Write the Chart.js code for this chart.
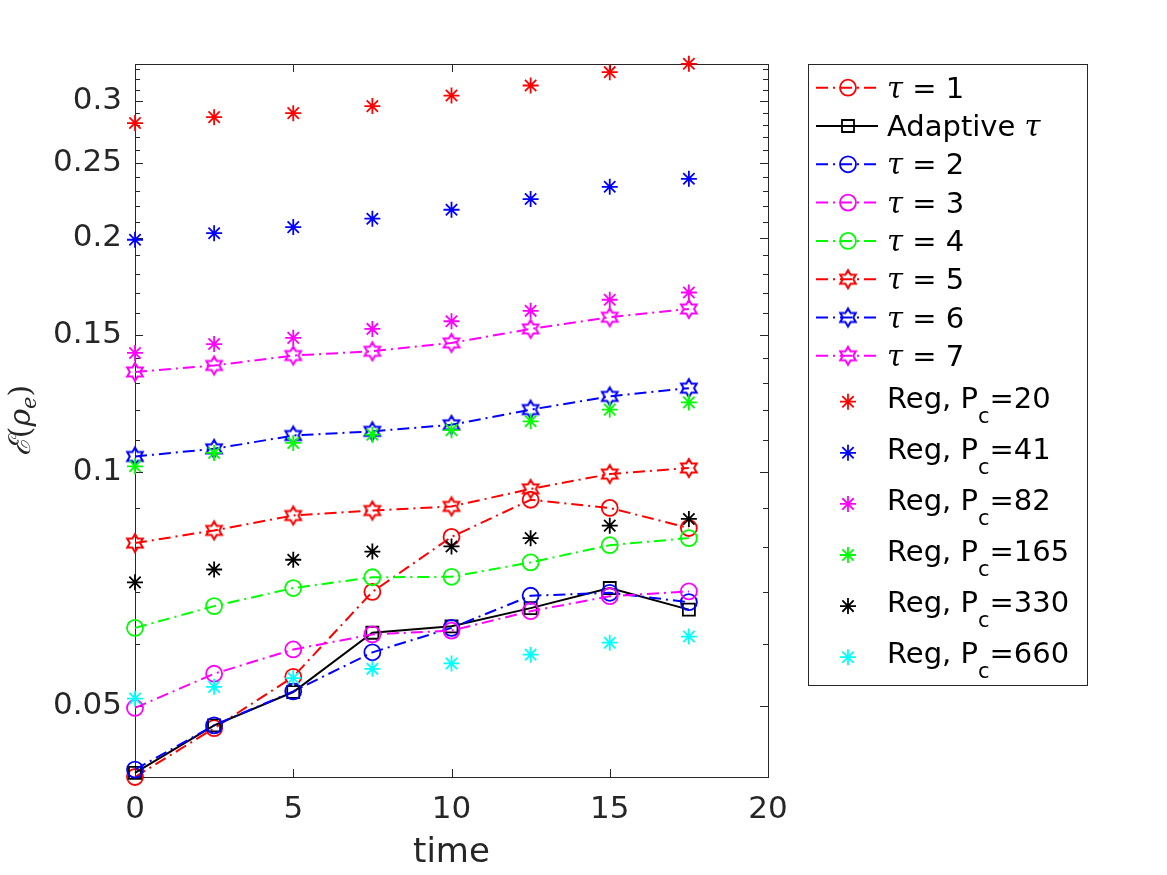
<!DOCTYPE html>
<html>
<head>
<meta charset="utf-8">
<title>Error vs time</title>
<script src="https://cdn.jsdelivr.net/npm/chart.js@4.4.1/dist/chart.umd.min.js"></script>
<style>
  html, body { margin: 0; padding: 0; background: #ffffff; }
  #wrap { width: 1167px; height: 875px; }
</style>
</head>
<body>
<div id="wrap"><canvas id="errChart" width="1167" height="875"></canvas></div>
<script>
// values (log axis)
const times = [0, 2.5, 5, 7.5, 10, 12.5, 15, 17.5];

const tau1     = [0.0405, 0.0468, 0.0545, 0.0701, 0.0825, 0.0921, 0.0899, 0.0847];
const adaptive = [0.0410, 0.0472, 0.0521, 0.0621, 0.0633, 0.0668, 0.0709, 0.0665];
const tau2     = [0.0414, 0.0472, 0.0522, 0.0586, 0.0630, 0.0693, 0.0699, 0.0680];
const tau3     = [0.0497, 0.0550, 0.0591, 0.0618, 0.0625, 0.0662, 0.0692, 0.0702];
const tau4     = [0.0630, 0.0672, 0.0709, 0.0732, 0.0733, 0.0765, 0.0805, 0.0822];
const tau5     = [0.0810, 0.0841, 0.0879, 0.0892, 0.0903, 0.0951, 0.0994, 0.1012];
const tau6     = [0.1047, 0.1071, 0.1114, 0.1128, 0.1150, 0.1203, 0.1251, 0.1282];
const tau7     = [0.1345, 0.1371, 0.1412, 0.1430, 0.1466, 0.1528, 0.1582, 0.1621];

const reg20    = [0.2812, 0.2862, 0.2896, 0.2957, 0.3051, 0.3143, 0.3270, 0.3352];
const reg41    = [0.1990, 0.2029, 0.2066, 0.2118, 0.2175, 0.2245, 0.2328, 0.2384];
const reg82    = [0.1423, 0.1461, 0.1488, 0.1528, 0.1563, 0.1612, 0.1666, 0.1702];
const reg165   = [0.1017, 0.1058, 0.1090, 0.1117, 0.1132, 0.1162, 0.1203, 0.1229];
const reg330   = [0.0721, 0.0749, 0.0771, 0.0790, 0.0802, 0.0822, 0.0853, 0.0870];
const reg660   = [0.0511, 0.0529, 0.0543, 0.0558, 0.0567, 0.0582, 0.0603, 0.0614];

const yTicks = [0.05, 0.1, 0.15, 0.2, 0.25, 0.3];
const xTicks = [0, 5, 10, 15, 20];

const RED = '#ff0000', BLUE = '#0000ff', MAG = '#ff00ff', GRN = '#00ff00', BLK = '#000000', CYN = '#00ffff';
const AXIS = '#262626';
const SANS = '"DejaVu Sans", sans-serif';
const SERIF = '"DejaVu Serif", serif';
const DASHDOT = [12, 5, 2, 5];

function hexagram(color) {
    const c = document.createElement('canvas');
    c.width = 24; c.height = 24;
    const g = c.getContext('2d');
    g.strokeStyle = color;
    g.lineWidth = 2;
    g.lineJoin = 'miter';
    g.beginPath();
    for (let k = 0; k < 12; k++) {
        const a = -Math.PI / 2 + k * Math.PI / 6;
        const r = k % 2 === 0 ? 9 : 5.2;
        const px = 12 + r * Math.cos(a), py = 12 + r * Math.sin(a);
        if (k === 0) g.moveTo(px, py); else g.lineTo(px, py);
    }
    g.closePath();
    g.stroke();
    return c;
}

function pts(vals) {
    return times.map((t, i) => ({ x: t, y: vals[i] }));
}

function lineSet(label, vals, color, style, dash, radius) {
    return {
        label: label,
        data: pts(vals),
        borderColor: color,
        borderWidth: 2,
        borderDash: dash,
        pointStyle: style,
        pointRadius: radius,
        pointHoverRadius: radius,
        pointBorderColor: color,
        pointBackgroundColor: 'rgba(0,0,0,0)',
        pointBorderWidth: 1.8,
        showLine: true,
        fill: false,
        tension: 0,
        clip: false
    };
}

function starSet(label, vals, color) {
    return {
        label: label,
        data: pts(vals),
        borderColor: color,
        showLine: false,
        pointStyle: 'star',
        pointRadius: 8,
        pointHoverRadius: 8,
        pointBorderColor: color,
        pointBorderWidth: 1.8,
        clip: false
    };
}

const datasets = [
    lineSet('\u03c4 = 1', tau1, RED, 'circle', DASHDOT, 8),
    lineSet('Adaptive \u03c4', adaptive, BLK, 'rect', [], 8.5),
    lineSet('\u03c4 = 2', tau2, BLUE, 'circle', DASHDOT, 8),
    lineSet('\u03c4 = 3', tau3, MAG, 'circle', DASHDOT, 8),
    lineSet('\u03c4 = 4', tau4, GRN, 'circle', DASHDOT, 8),
    lineSet('\u03c4 = 5', tau5, RED, hexagram(RED), DASHDOT, 9),
    lineSet('\u03c4 = 6', tau6, BLUE, hexagram(BLUE), DASHDOT, 9),
    lineSet('\u03c4 = 7', tau7, MAG, hexagram(MAG), DASHDOT, 9),
    starSet('Reg, P_c=20', reg20, RED),
    starSet('Reg, P_c=41', reg41, BLUE),
    starSet('Reg, P_c=82', reg82, MAG),
    starSet('Reg, P_c=165', reg165, GRN),
    starSet('Reg, P_c=330', reg330, BLK),
    starSet('Reg, P_c=660', reg660, CYN)
];
// later series on top, like the original
datasets.forEach((d, i) => { d.order = datasets.length - i; });

// box, inward ticks on all four sides
const axesBox = {
    id: 'axesBox',
    beforeDatasetsDraw(chart) {
        const { ctx, chartArea: a, scales } = chart;
        const x = scales.x, y = scales.y;
        ctx.save();
        ctx.strokeStyle = AXIS;
        ctx.lineWidth = 1;
        ctx.strokeRect(a.left + 0.5, a.top + 0.5, a.right - a.left, a.bottom - a.top);
        ctx.beginPath();
        xTicks.forEach(v => {
            const px = Math.round(x.getPixelForValue(v)) + 0.5;
            ctx.moveTo(px, a.bottom); ctx.lineTo(px, a.bottom - 8);
            ctx.moveTo(px, a.top); ctx.lineTo(px, a.top + 8);
        });
        for (let k = 4; k <= 34; k++) {
            const v = k / 100;
            if (v < y.min || v > y.max) continue;
            const major = k % 5 === 0 && k >= 5;
            const len = major ? 8 : 5;
            const py = Math.round(y.getPixelForValue(v)) + 0.5;
            ctx.moveTo(a.left, py); ctx.lineTo(a.left + len, py);
            ctx.moveTo(a.right, py); ctx.lineTo(a.right - len, py);
        }
        ctx.stroke();
        ctx.restore();
    }
};

// y label and legend drawn by hand (subscripts, mixed fonts)
const extras = {
    id: 'extras',
    afterDraw(chart) {
        const ctx = chart.ctx;
        const a = chart.chartArea;
        ctx.save();

        // y-axis label  E(rho_e)
        ctx.translate(30, (a.top + a.bottom) / 2);
        ctx.rotate(-Math.PI / 2);
        ctx.fillStyle = AXIS;
        ctx.textBaseline = 'alphabetic';
        const parts = [
            ['\u2130', 'italic 30px ' + SERIF, 0],
            ['(', '30px ' + SERIF, 0],
            ['\u03c1', 'italic 30px ' + SERIF, 0],
            ['e', 'italic 21px ' + SERIF, 6],
            [')', '30px ' + SERIF, 0]
        ];
        let w = 0;
        parts.forEach(p => { ctx.font = p[1]; w += ctx.measureText(p[0]).width; });
        let cx = -w / 2;
        parts.forEach(p => {
            ctx.font = p[1];
            ctx.fillText(p[0], cx, p[2]);
            cx += ctx.measureText(p[0]).width;
        });
        ctx.restore();

        // legend
        ctx.save();
        ctx.strokeStyle = AXIS;
        ctx.lineWidth = 1;
        ctx.fillStyle = '#ffffff';
        ctx.fillRect(808, 64, 279, 621);
        ctx.strokeRect(808.5, 64.5, 279, 621);
        const lx0 = 816, lx1 = 878, mx = 848, tx = 887;
        const fs = 29;
        chart.data.datasets.forEach((ds, i) => {
            const row = i < 8 ? 87.7 + i * 38.3 : 401.7 + (i - 8) * 51.1;
            if (ds.showLine) {
                ctx.save();
                ctx.strokeStyle = ds.borderColor;
                ctx.lineWidth = ds.borderWidth;
                ctx.setLineDash(ds.borderDash);
                ctx.beginPath();
                ctx.moveTo(lx0, row); ctx.lineTo(lx1, row);
                ctx.stroke();
                ctx.restore();
            }
            ctx.save();
            ctx.strokeStyle = ds.pointBorderColor;
            ctx.fillStyle = 'rgba(0,0,0,0)';
            ctx.lineWidth = ds.pointBorderWidth;
            Chart.helpers.drawPoint(ctx, { pointStyle: ds.pointStyle, radius: ds.pointRadius, rotation: 0, borderWidth: ds.pointBorderWidth }, mx, row);
            ctx.restore();

            ctx.fillStyle = '#000000';
            ctx.textBaseline = 'alphabetic';
            let x = tx;
            if (i < 8) {
                const base = row + 10;
                const rest = ds.label;
                if (rest.startsWith('Adaptive')) {
                    ctx.font = fs + 'px ' + SANS;
                    ctx.fillText('Adaptive ', x, base);
                    x += ctx.measureText('Adaptive ').width;
                    ctx.font = 'italic ' + fs + 'px ' + SERIF;
                    ctx.fillText('\u03c4', x, base);
                } else {
                    ctx.font = 'italic ' + fs + 'px ' + SERIF;
                    ctx.fillText('\u03c4', x, base);
                    x += ctx.measureText('\u03c4').width;
                    ctx.font = fs + 'px ' + SANS;
                    ctx.fillText(rest.slice(1), x, base);
                }
            } else {
                const base = row + 6;
                const [head, tail] = ds.label.split('_c');
                ctx.font = fs + 'px ' + SANS;
                ctx.fillText(head, x, base);
                x += ctx.measureText(head).width;
                ctx.font = '21px ' + SANS;
                ctx.fillText('c', x, base + 15);
                x += ctx.measureText('c').width;
                ctx.font = fs + 'px ' + SANS;
                ctx.fillText(tail, x, base);
            }
        });
        ctx.restore();
    }
};

new Chart(document.getElementById('errChart'), {
    type: 'scatter',
    data: { datasets: datasets },
    plugins: [axesBox, extras],
    options: {
        responsive: false,
        animation: false,
        devicePixelRatio: 1,
        layout: { padding: { top: 64, right: 399, bottom: 0, left: 0 } },
        plugins: {
            legend: { display: false },
            tooltip: { enabled: false }
        },
        scales: {
            x: {
                type: 'linear',
                min: 0,
                max: 20,
                afterFit(scale) { scale.height = 98; },
                afterBuildTicks(scale) { scale.ticks = xTicks.map(v => ({ value: v })); },
                grid: { display: false, drawTicks: false },
                border: { display: false },
                ticks: {
                    padding: 14,
                    color: AXIS,
                    maxRotation: 0,
                    font: { family: SANS, size: 31 }
                },
                title: {
                    display: true,
                    text: 'time',
                    color: AXIS,
                    padding: { top: 0, bottom: 1 },
                    font: { family: SANS, size: 34 }
                }
            },
            y: {
                type: 'logarithmic',
                min: 0.0405,
                max: 0.335,
                afterFit(scale) { scale.width = 135; },
                afterBuildTicks(scale) { scale.ticks = yTicks.map(v => ({ value: v })); },
                grid: { display: false, drawTicks: false },
                border: { display: false },
                ticks: {
                    padding: 13,
                    color: AXIS,
                    font: { family: SANS, size: 31 },
                    callback: v => String(v)
                }
            }
        }
    }
});
</script>
</body>
</html>
